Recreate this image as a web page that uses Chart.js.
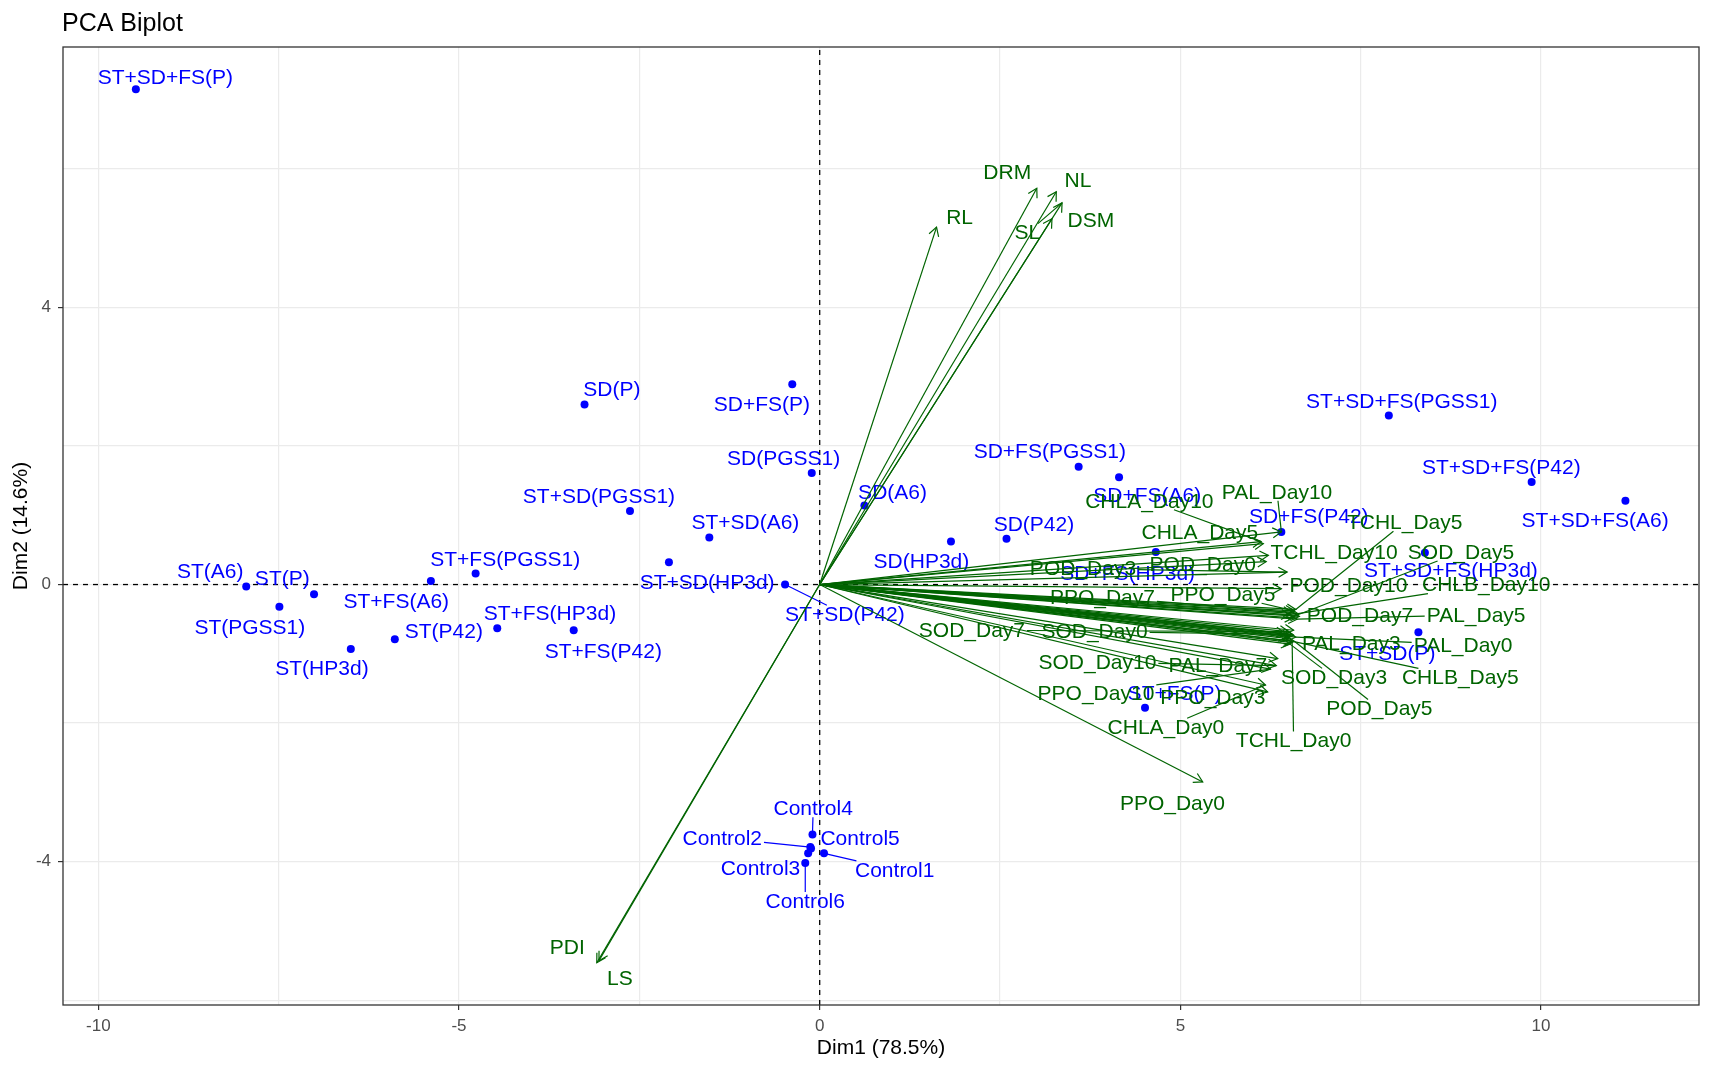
<!DOCTYPE html>
<html lang="en">
<head>
<meta charset="UTF-8">
<title>PCA Biplot</title>
<style>
  html, body { margin: 0; padding: 0; background: #fff; }
  #wrap { width: 1712px; height: 1071px; }
</style>
<script src="https://cdn.jsdelivr.net/npm/chart.js"></script>
</head>
<body>
<div id="wrap"><canvas id="biplot" width="1712" height="1071"></canvas></div>
<script>
// individuals: scores on Dim1 / Dim2, and where the repelled labels ended up
const indNames = ['ST+SD+FS(P)', 'SD(P)', 'SD+FS(P)', 'SD(PGSS1)', 'ST+SD(PGSS1)', 'ST+SD(A6)',
  'ST+SD(HP3d)', 'ST+SD(P42)', 'SD(A6)', 'SD(HP3d)', 'SD(P42)', 'SD+FS(PGSS1)', 'SD+FS(A6)',
  'SD+FS(HP3d)', 'SD+FS(P42)', 'ST+SD+FS(PGSS1)', 'ST+SD+FS(P42)', 'ST+SD+FS(A6)', 'ST+SD+FS(HP3d)',
  'ST+SD(P)', 'ST+FS(P)', 'ST(A6)', 'ST(P)', 'ST(PGSS1)', 'ST(HP3d)', 'ST(P42)', 'ST+FS(PGSS1)',
  'ST+FS(A6)', 'ST+FS(HP3d)', 'ST+FS(P42)', 'Control1', 'Control2', 'Control3', 'Control4',
  'Control5', 'Control6'];
const indX = [-9.48, -3.26, -0.38, -0.11, -2.63, -1.53, -2.09, -0.48, 0.62, 1.82, 2.59, 3.59, 4.15,
  4.66, 6.40, 7.89, 9.87, 11.17, 8.39, 8.30, 4.51, -7.95, -7.01, -7.49, -6.50, -5.89, -4.77,
  -5.39, -4.47, -3.41, 0.06, -0.13, -0.16, -0.10, -0.12, -0.20];
const indY = [7.15, 2.60, 2.89, 1.61, 1.06, 0.68, 0.32, 0.00, 1.14, 0.62, 0.66, 1.70, 1.55,
  0.47, 0.76, 2.44, 1.48, 1.21, 0.46, -0.69, -1.78, -0.03, -0.14, -0.32, -0.93, -0.79, 0.16,
  0.05, -0.63, -0.66, -3.88, -3.79, -3.88, -3.61, -3.81, -4.02];
const indLabX = [-9.07, -2.88, -0.80, -0.50, -3.06, -1.03, -1.56, 0.35, 1.01, 1.41, 2.97, 3.19, 4.54,
  4.27, 6.78, 8.07, 9.45, 10.75, 8.75, 7.87, 4.92, -8.45, -7.45, -7.90, -6.90, -5.21, -4.36,
  -5.87, -3.74, -3.00, 1.04, -1.35, -0.82, -0.09, 0.56, -0.20];
const indLabY = [7.33, 2.82, 2.60, 1.83, 1.28, 0.90, 0.03, -0.43, 1.34, 0.33, 0.87, 1.92, 1.29,
  0.17, 0.99, 2.65, 1.69, 0.93, 0.20, -0.99, -1.57, 0.19, 0.09, -0.62, -1.21, -0.68, 0.36,
  -0.24, -0.41, -0.96, -4.12, -3.66, -4.10, -3.23, -3.66, -4.57];

// variables: loading arrows; null label = label dropped in the crowd
const varNames = ['RL', 'DRM', 'NL', 'SL', 'DSM', 'PDI', 'LS',
  'PPO_Day0', 'PPO_Day3', 'PPO_Day5', 'PPO_Day7', 'PPO_Day10',
  'POD_Day0', 'POD_Day3', 'POD_Day5', 'POD_Day7', 'POD_Day10',
  'PAL_Day0', 'PAL_Day3', 'PAL_Day5', 'PAL_Day7', 'PAL_Day10',
  'SOD_Day0', 'SOD_Day3', 'SOD_Day5', 'SOD_Day7', 'SOD_Day10',
  'CHLA_Day0', 'CHLA_Day3', 'CHLA_Day5', 'CHLA_Day7', 'CHLA_Day10',
  'CHLB_Day0', 'CHLB_Day3', 'CHLB_Day5', 'CHLB_Day7', 'CHLB_Day10',
  'TCHL_Day0', 'TCHL_Day3', 'TCHL_Day5', 'TCHL_Day7', 'TCHL_Day10'];
const varX = [1.62, 3.01, 3.28, 3.36, 3.22, -3.06, -3.09,
  5.31, 6.21, 6.58, 6.55, 6.25,
  6.19, 6.48, 6.58, 6.65, 6.40,
  6.60, 6.57, 6.62, 6.35, 6.40,
  6.55, 6.52, 6.62, 6.50, 6.33,
  6.18, 6.45, 6.15, 6.52, 6.12,
  6.50, 6.53, 6.56, 6.57, 6.63,
  6.55, 6.48, 6.60, 6.57, 6.22];
const varY = [5.16, 5.72, 5.67, 5.51, 5.28, -5.43, -5.46,
  -2.85, -1.55, -0.38, -0.40, -1.22,
  0.33, 0.18, -0.82, -0.46, -0.06,
  -0.76, -0.73, -0.50, -1.07, 0.76,
  -0.72, -0.86, -0.44, -0.68, -1.17,
  -1.45, -0.70, 0.59, -0.44, 0.62,
  -0.78, -0.74, -0.82, -0.66, -0.42,
  -0.84, -0.76, -0.36, -0.48, 0.42];
const varLabX = [1.94, 2.60, 3.58, 2.88, 3.76, -3.50, -2.77,
  4.89, 5.45, 5.59, 3.92, 3.83,
  5.31, 3.65, 7.76, 7.49, 7.33,
  8.92, 7.37, 9.10, 5.52, 6.34,
  3.81, 7.13, 8.89, 2.11, 3.85,
  4.80, null, 5.27, null, 4.57,
  null, null, 8.88, null, 9.24,
  6.57, null, 8.11, null, 7.13];
const varLabY = [5.31, 5.95, 5.84, 5.08, 5.26, -5.24, -5.68,
  -3.15, -1.62, -0.14, -0.18, -1.57,
  0.30, 0.23, -1.79, -0.44, -0.01,
  -0.87, -0.85, -0.44, -1.17, 1.34,
  -0.68, -1.34, 0.47, -0.66, -1.12,
  -2.06, null, 0.76, null, 1.21,
  null, null, -1.34, null, 0.00,
  -2.25, null, 0.90, null, 0.47];

const xTicks = [-10, -5, 0, 5, 10];
const yTicks = [-4, 0, 4];
const X_MIN = -10.49, X_MAX = 12.19, Y_MIN = -6.07, Y_MAX = 7.76;

const BLUE = '#0000ff';
const GREEN = '#006400';
const FONT = '"Liberation Sans", Arial, sans-serif';
const LABEL_FONT = '21px ' + FONT;

// text label plus ggrepel-style leader segment when the label sits away from its point
function drawLabels(chart, names, px, py, lx, ly, color) {
  const ctx = chart.ctx, xs = chart.scales.x, ys = chart.scales.y;
  ctx.save();
  ctx.font = LABEL_FONT;
  ctx.fillStyle = color;
  ctx.strokeStyle = color;
  ctx.lineWidth = 1.2;
  ctx.textAlign = 'center';
  ctx.textBaseline = 'middle';
  names.forEach((name, i) => {
    if (lx[i] === null) return;
    const tx = xs.getPixelForValue(px[i]), ty = ys.getPixelForValue(py[i]);
    const cx = xs.getPixelForValue(lx[i]), cy = ys.getPixelForValue(ly[i]);
    const hw = ctx.measureText(name).width / 2 + 2, hh = 9;
    const dx = tx - cx, dy = ty - cy;
    const gap = Math.hypot(Math.max(Math.abs(dx) - hw, 0), Math.max(Math.abs(dy) - hh, 0));
    if (gap > 15) {
      const t = Math.min(dx ? hw / Math.abs(dx) : Infinity, dy ? hh / Math.abs(dy) : Infinity);
      ctx.beginPath();
      ctx.moveTo(cx + t * dx, cy + t * dy);
      ctx.lineTo(tx, ty);
      ctx.stroke();
    }
    ctx.fillText(name, cx, cy + 1);
  });
  ctx.restore();
}

const biplotDecor = {
  id: 'biplotDecor',
  afterDatasetDraw(chart, args) {
    if (args.index !== 2) return; // individuals: labels go under the arrows
    drawLabels(chart, indNames, indX, indY, indLabX, indLabY, BLUE);
  },
  afterDatasetsDraw(chart) {
    const ctx = chart.ctx, xs = chart.scales.x, ys = chart.scales.y;
    const ox = xs.getPixelForValue(0), oy = ys.getPixelForValue(0);
    ctx.save();
    ctx.strokeStyle = GREEN;
    ctx.lineWidth = 1.2;
    varX.forEach((v, i) => {
      const ex = xs.getPixelForValue(v), ey = ys.getPixelForValue(varY[i]);
      const a = Math.atan2(ey - oy, ex - ox), L = 10, s = Math.PI / 6;
      ctx.beginPath();
      ctx.moveTo(ex - L * Math.cos(a - s), ey - L * Math.sin(a - s));
      ctx.lineTo(ex, ey);
      ctx.lineTo(ex - L * Math.cos(a + s), ey - L * Math.sin(a + s));
      ctx.stroke();
    });
    ctx.restore();

    drawLabels(chart, varNames, varX, varY, varLabX, varLabY, GREEN);

    // panel border
    const a = chart.chartArea;
    ctx.save();
    ctx.strokeStyle = '#333333';
    ctx.lineWidth = 1.3;
    ctx.strokeRect(a.left, a.top, a.right - a.left, a.bottom - a.top);
    ctx.restore();
  },
  afterDraw(chart) {
    const ctx = chart.ctx;
    ctx.save();
    ctx.font = '25px ' + FONT;
    ctx.fillStyle = '#000';
    ctx.textAlign = 'left';
    ctx.textBaseline = 'alphabetic';
    ctx.fillText('PCA Biplot', 62, 31);
    ctx.restore();
  }
};

const datasets = [
  { label: 'hline', data: [{ x: X_MIN, y: 0 }, { x: X_MAX, y: 0 }], showLine: true, pointRadius: 0,
    borderColor: '#000', borderWidth: 1.3, borderDash: [5, 5], order: 2 },
  { label: 'vline', data: [{ x: 0, y: Y_MIN }, { x: 0, y: Y_MAX }], showLine: true, pointRadius: 0,
    borderColor: '#000', borderWidth: 1.3, borderDash: [5, 5], order: 2 },
  { label: 'ind', data: indX.map((x, i) => ({ x: x, y: indY[i] })), pointRadius: 4,
    backgroundColor: BLUE, borderWidth: 0, order: 1 }
].concat(varNames.map((n, i) => ({
  label: n,
  data: [{ x: 0, y: 0 }, { x: varX[i], y: varY[i] }],
  showLine: true, pointRadius: 0, borderColor: GREEN, borderWidth: 1.2, order: 0
})));

const gridColor = '#ebebeb';

new Chart(document.getElementById('biplot'), {
  type: 'scatter',
  data: { datasets: datasets },
  plugins: [biplotDecor],
  options: {
    responsive: false,
    animation: false,
    devicePixelRatio: 1,
    events: [],
    layout: { padding: { top: 47, right: 13, left: 0, bottom: 0 } },
    plugins: { legend: { display: false }, tooltip: { enabled: false } },
    scales: {
      x: {
        type: 'linear', min: X_MIN, max: X_MAX,
        afterFit: s => { s.height = 66; },
        border: { display: false },
        grid: {
          color: gridColor, lineWidth: 1.2, tickLength: 5,
          tickColor: c => (c.tick && xTicks.includes(c.tick.value) ? '#333' : 'rgba(0,0,0,0)')
        },
        ticks: {
          stepSize: 2.5, includeBounds: false, autoSkip: false, maxRotation: 0,
          padding: 6, color: '#4d4d4d', font: { family: FONT, size: 17 },
          callback: v => (xTicks.includes(v) ? String(v) : '')
        },
        title: { display: true, text: 'Dim1 (78.5%)', color: '#000',
          font: { family: FONT, size: 21 }, padding: { top: 4, bottom: 10 } }
      },
      y: {
        type: 'linear', min: Y_MIN, max: Y_MAX,
        afterFit: s => { s.width = 63; },
        border: { display: false },
        grid: {
          color: gridColor, lineWidth: 1.2, tickLength: 5,
          tickColor: c => (c.tick && yTicks.includes(c.tick.value) ? '#333' : 'rgba(0,0,0,0)')
        },
        ticks: {
          stepSize: 2, includeBounds: false, autoSkip: false,
          padding: 7, color: '#4d4d4d', font: { family: FONT, size: 17 },
          callback: v => (yTicks.includes(v) ? String(v) : '')
        },
        title: { display: true, text: 'Dim2 (14.6%)', color: '#000',
          font: { family: FONT, size: 21 }, padding: { top: 9, bottom: 4 } }
      }
    }
  }
});
</script>
</body>
</html>
